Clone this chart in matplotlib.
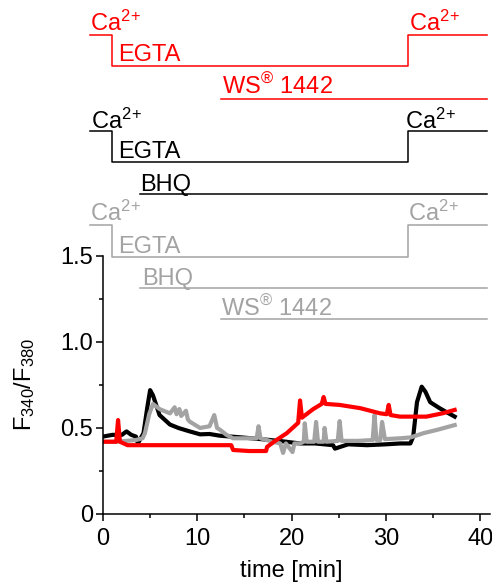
import matplotlib
matplotlib.use("Agg")
import matplotlib.pyplot as plt
from matplotlib.ticker import MultipleLocator

plt.rcParams['font.family'] = ['Liberation Sans', 'DejaVu Sans']
plt.rcParams['mathtext.fontset'] = 'custom'
plt.rcParams['mathtext.rm'] = 'Liberation Sans'
plt.rcParams['mathtext.it'] = 'Liberation Sans:italic'

RED = '#ff0000'
GRAY = '#a3a3a3'

# protocol timing (min)
t_start = -1.35
ca_off = 0.95
ca_on = 32.3
bhq_start = 3.9
ws_start = 12.5
t_end = 40.7

# black trace: Ca2+ / EGTA / BHQ
t_black = [0, 1.0, 2.0, 2.5, 3.0, 3.5, 3.7, 4.0, 4.3, 4.7, 5.0, 5.3, 6.0, 7.1, 8.0, 9.2, 10.3, 11.3,
           12.4, 14.5, 16.6, 18.8, 20.9, 22.5, 24.4, 24.6, 26.0, 28.0, 30.0, 31.5, 32.6, 32.9, 33.3, 33.8,
           34.2, 34.7, 35.7, 36.5, 37.3]
y_black = [0.45, 0.46, 0.46, 0.48, 0.46, 0.45, 0.41, 0.44, 0.47, 0.62, 0.72, 0.69, 0.575, 0.52, 0.50, 0.48,
           0.463, 0.465, 0.455, 0.446, 0.436, 0.424, 0.41, 0.41, 0.40, 0.38, 0.405, 0.40, 0.405, 0.41, 0.41,
           0.45, 0.65, 0.74, 0.71, 0.65, 0.615, 0.59, 0.566]

# gray trace: Ca2+ / EGTA / BHQ / WS 1442
t_gray = [0, 1.5, 3.5, 4.2, 4.45, 4.9, 5.3, 6.0, 7.1, 7.6, 7.8, 8.1, 8.3, 8.8, 9.0, 9.2, 10.3, 11.3,
          11.8, 12.1, 12.4, 13.1, 13.8, 15.0, 16.3, 16.5, 16.7, 18.0, 18.8, 19.1, 19.4, 20.1, 20.3,
          20.9, 21.3, 21.4, 21.6, 22.4, 22.6, 22.8, 23.4, 23.5, 23.7, 24.9, 25.1, 25.3, 27.0, 28.6,
          28.8, 29.0, 29.4, 29.6, 29.9, 31.5, 32.6, 34.0, 35.5, 37.3]
y_gray = [0.42, 0.42, 0.43, 0.44, 0.47, 0.58, 0.64, 0.61, 0.585, 0.62, 0.58, 0.61, 0.57, 0.60, 0.55,
          0.537, 0.50, 0.51, 0.575, 0.50, 0.49, 0.46, 0.44, 0.44, 0.44, 0.51, 0.44, 0.42, 0.41, 0.355,
          0.41, 0.36, 0.41, 0.41, 0.42, 0.527, 0.42, 0.42, 0.535, 0.42, 0.42, 0.50, 0.42, 0.425, 0.54,
          0.425, 0.425, 0.43, 0.575, 0.43, 0.43, 0.535, 0.435, 0.44, 0.445, 0.47, 0.49, 0.517]

# red trace: Ca2+ / EGTA / WS 1442
t_red = [0, 1.4, 1.6, 1.8, 2.6, 5.0, 8.0, 11.0, 13.6, 13.8, 15.5, 17.3, 17.4, 18.4, 19.5, 20.7, 20.9,
         21.1, 22.3, 23.2, 23.4, 23.6, 25.1, 27.3, 29.4, 30.1, 30.3, 30.5, 31.5, 32.6, 34.3, 36.0, 37.3]
y_red = [0.42, 0.42, 0.546, 0.42, 0.40, 0.40, 0.40, 0.40, 0.40, 0.372, 0.366, 0.366, 0.39, 0.43, 0.47,
         0.53, 0.66, 0.56, 0.61, 0.64, 0.68, 0.64, 0.634, 0.615, 0.585, 0.58, 0.634, 0.575, 0.566, 0.566,
         0.566, 0.585, 0.605]

xticks = [0, 10, 20, 30, 40]
yticks = [0, 0.5, 1.0, 1.5]
ytick_labels = ['0', '0.5', '1.0', '1.5']

fig = plt.figure(figsize=(4.92, 5.85), dpi=100)
ax = fig.add_axes([0.2093, 0.1214, 0.7858, 0.8527])

ax.plot(t_black, y_black, color='black', lw=3, solid_joinstyle='round')
ax.plot(t_gray, y_gray, color=GRAY, lw=3, solid_joinstyle='round')
ax.plot(t_red, y_red, color=RED, lw=3, solid_joinstyle='round')


def ca_step(hi, lo, color):
    ax.plot([t_start, ca_off, ca_off, ca_on, ca_on, t_end], [hi, hi, lo, lo, hi, hi],
            color=color, lw=1.1, clip_on=False)


def bar(start, y, color):
    ax.plot([start, t_end], [y, y], color=color, lw=1.1, clip_on=False)


def label(x, y, s, color):
    ax.text(x, y, s, color=color, fontsize=17, va='baseline', ha='left', clip_on=False)


ca = 'Ca$^{2\\!+}$'
ws = 'WS$^{\\circledR}$ 1442'

# red protocol
ca_step(2.785, 2.602, RED)
bar(ws_start, 2.413, RED)
label(-1.38, 2.81, ca, RED)
label(1.6, 2.633, 'EGTA', RED)
label(32.45, 2.81, ca, RED)
label(12.6, 2.44, ws, RED)

# black protocol
ca_step(2.228, 2.048, 'black')
bar(bhq_start, 1.859, 'black')
label(-1.3, 2.24, ca, 'black')
label(1.62, 2.07, 'EGTA', 'black')
label(32.0, 2.24, ca, 'black')
label(3.9, 1.88, 'BHQ', 'black')

# gray protocol
ca_step(1.680, 1.492, GRAY)
bar(bhq_start, 1.312, GRAY)
bar(ws_start, 1.132, GRAY)
label(-1.38, 1.705, ca, GRAY)
label(1.62, 1.515, 'EGTA', GRAY)
label(32.4, 1.705, ca, GRAY)
label(4.1, 1.33, 'BHQ', GRAY)
label(12.5, 1.15, ws, GRAY)

ax.set_xlim(0, 41)
ax.set_ylim(0, 2.9)
ax.spines['top'].set_visible(False)
ax.spines['right'].set_visible(False)
ax.spines['left'].set_bounds(0, 1.5)
ax.spines['left'].set_linewidth(1.1)
ax.spines['bottom'].set_linewidth(1.1)

ax.set_xticks(xticks)
ax.xaxis.set_minor_locator(MultipleLocator(5))
ax.set_yticks(yticks)
ax.set_yticklabels(ytick_labels)
ax.set_yticks([0.25, 0.75, 1.25], minor=True)
ax.tick_params(axis='both', which='major', labelsize=17, length=5, width=1.1)
ax.tick_params(axis='both', which='minor', length=3, width=1.1)
ax.tick_params(axis='x', pad=5)
ax.tick_params(axis='y', pad=2)

ax.set_xlabel('time [min]', fontsize=17)
ax.xaxis.set_label_coords(20 / 41, -0.092)
ax.set_ylabel('F$_{340}$/F$_{380}$', fontsize=17)
ax.yaxis.set_label_coords(-0.17, 0.75 / 2.9)

fig.savefig('out.png', dpi=100)
